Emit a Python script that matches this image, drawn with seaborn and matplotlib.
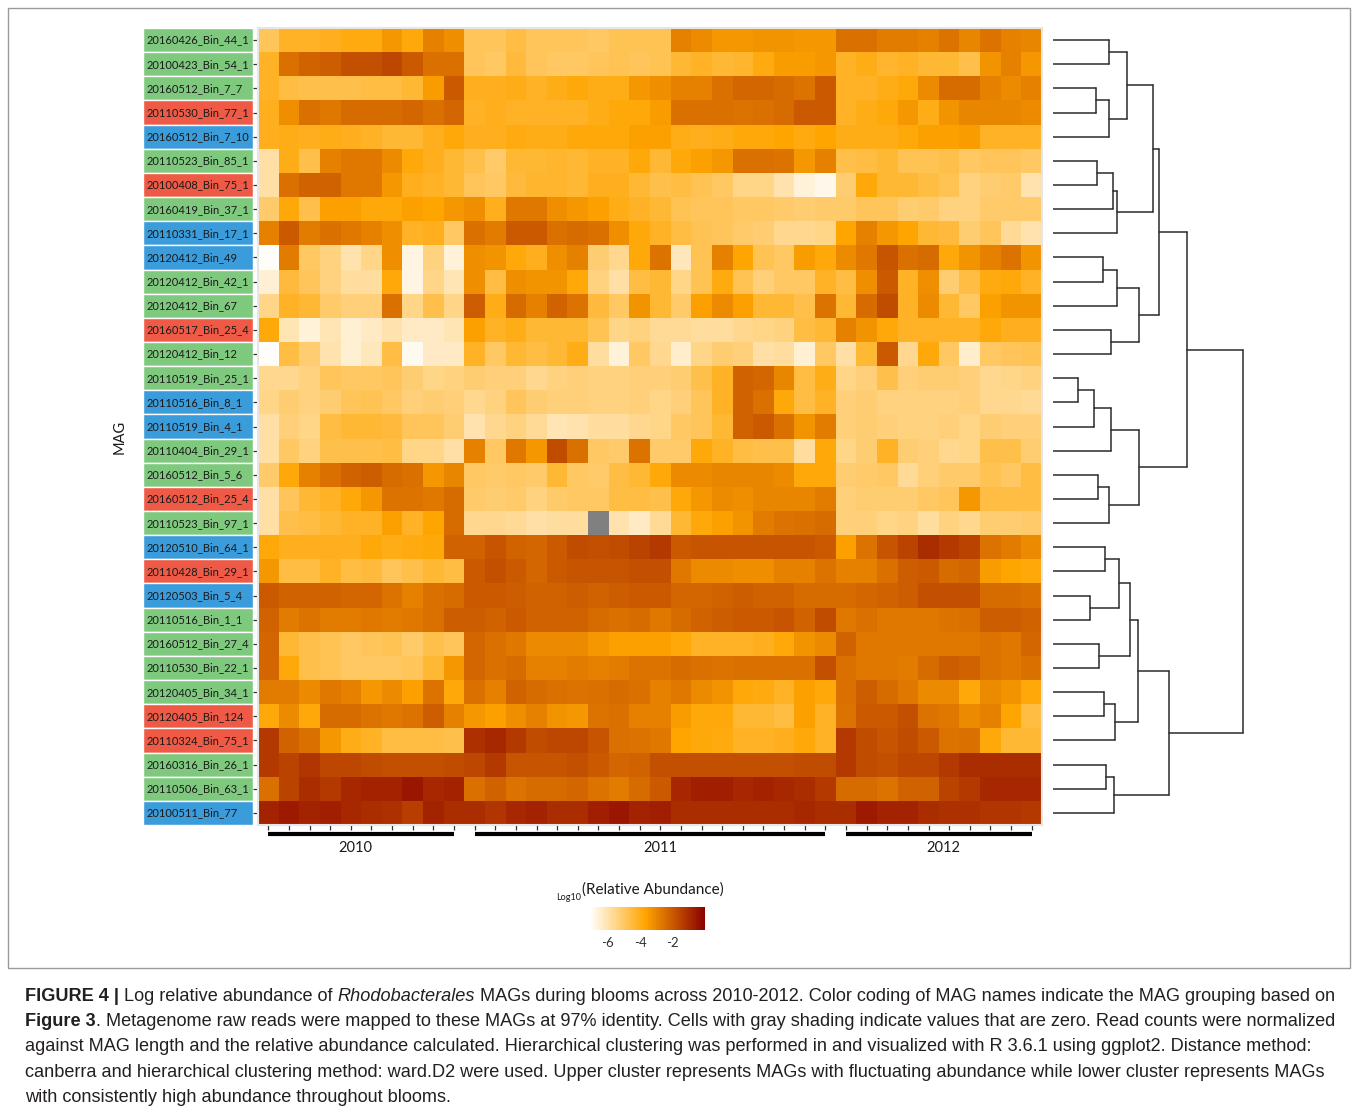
import numpy as np
import pandas as pd
import matplotlib
matplotlib.use("Agg")
import matplotlib.pyplot as plt
import seaborn as sns
from matplotlib.colors import LinearSegmentedColormap
from matplotlib.patches import Rectangle

# MAG rows (top to bottom) and their group colour
mag_names = [
    "20160426_Bin_44_1", "20100423_Bin_54_1", "20160512_Bin_7_7", "20110530_Bin_77_1",
    "20160512_Bin_7_10", "20110523_Bin_85_1", "20100408_Bin_75_1", "20160419_Bin_37_1",
    "20110331_Bin_17_1", "20120412_Bin_49", "20120412_Bin_42_1", "20120412_Bin_67",
    "20160517_Bin_25_4", "20120412_Bin_12", "20110519_Bin_25_1", "20110516_Bin_8_1",
    "20110519_Bin_4_1", "20110404_Bin_29_1", "20160512_Bin_5_6", "20160512_Bin_25_4",
    "20110523_Bin_97_1", "20120510_Bin_64_1", "20110428_Bin_29_1", "20120503_Bin_5_4",
    "20110516_Bin_1_1", "20160512_Bin_27_4", "20110530_Bin_22_1", "20120405_Bin_34_1",
    "20120405_Bin_124", "20110324_Bin_75_1", "20160316_Bin_26_1", "20110506_Bin_63_1",
    "20100511_Bin_77",
]
mag_groups = [
    "g", "g", "g", "r", "b", "g", "r", "g", "b", "b", "g", "g", "r", "g", "g", "b",
    "b", "g", "g", "r", "g", "b", "r", "b", "g", "g", "g", "g", "r", "r", "g", "g", "b",
]
group_colors = {"g": "#7fc97f", "r": "#ee5a45", "b": "#3b9cdb"}

# sampling years, number of samples (columns) per year, label position (column units)
years = ["2010", "2011", "2012"]
year_ncols = [10, 18, 10]
year_label_x = [4.7, 19.5, 33.2]

nan = np.nan
# log10 relative abundance, one list per MAG, 38 samples each
log_abund = [
    [-4.9,-4.2,-4.2,-4.1,-3.9,-3.9,-3.4,-3.8,-2.9,-3.2,-4.9,-4.9,-4.6, -4.9,-4.9,-4.9,-5.0,-4.8,-4.8,-4.8,-2.9,-3.1,-3.4,-3.4,-3.3,-3.3, -3.4,-3.4,-2.5,-2.5,-2.8,-2.8,-2.9,-2.6,-3.0,-2.6,-2.9,-3.0],
    [-4.2,-2.5,-2.2,-2.1,-1.8,-1.8,-1.6,-2.0,-2.5,-2.5,-4.9,-5.0,-4.5, -4.9,-5.0,-5.0,-4.9,-4.8,-4.9,-4.8,-4.4,-4.2,-4.4,-4.3,-3.9,-3.5, -3.5,-3.4,-4.2,-4.0,-4.3,-4.2,-4.4,-4.4,-4.7,-3.3,-2.9,-3.4],
    [-4.2,-4.6,-4.7,-4.7,-4.7,-4.6,-4.6,-4.4,-3.5,-2.0,-4.1,-4.1,-4.0, -4.2,-4.0,-3.8,-4.0,-4.0,-3.4,-3.2,-2.9,-2.9,-2.5,-2.3,-2.3,-2.4, -2.6,-2.0,-4.2,-4.2,-4.0,-3.8,-3.1,-2.4,-2.4,-2.9,-3.1,-2.9],
    [-4.1,-3.2,-2.5,-2.7,-2.4,-2.4,-2.4,-2.3,-2.5,-2.3,-4.2,-4.1,-4.2, -4.2,-4.2,-4.2,-4.0,-3.8,-3.8,-3.5,-2.5,-2.5,-2.5,-2.6,-2.5,-2.4, -2.0,-2.0,-4.2,-4.0,-3.8,-3.4,-4.0,-3.3,-3.0,-3.0,-3.0,-3.1],
    [-4.1,-4.0,-4.1,-4.0,-4.1,-4.2,-4.4,-4.4,-4.1,-3.8,-4.1,-4.1,-3.9, -4.0,-4.0,-3.8,-3.8,-3.8,-3.6,-3.6,-4.0,-4.1,-4.0,-3.8,-3.8,-3.7, -3.9,-3.7,-4.0,-4.0,-4.0,-3.8,-3.6,-3.6,-3.5,-4.2,-4.2,-4.2],
    [-5.9,-4.0,-4.7,-2.9,-2.7,-2.7,-3.1,-3.8,-4.1,-4.4,-4.7,-5.1,-4.4, -4.4,-4.3,-4.4,-4.2,-4.2,-3.8,-4.4,-3.8,-3.6,-3.4,-2.5,-2.5,-2.6, -3.4,-2.9,-4.7,-4.6,-4.4,-4.8,-4.8,-4.7,-5.0,-4.9,-4.9,-5.0],
    [-5.9,-2.5,-2.2,-2.2,-2.7,-2.7,-3.4,-4.1,-4.2,-4.4,-4.9,-5.0,-4.5, -4.3,-4.3,-4.4,-4.1,-4.1,-4.4,-4.7,-4.6,-4.8,-5.0,-5.5,-5.5,-6.0, -6.6,-6.8,-5.2,-3.8,-4.4,-4.4,-4.6,-4.8,-5.4,-5.2,-5.1,-6.0],
    [-5.1,-3.8,-4.7,-3.6,-3.6,-3.8,-3.8,-3.6,-3.7,-3.4,-3.2,-4.1,-2.7, -2.7,-3.2,-3.4,-3.6,-4.0,-4.2,-4.4,-4.8,-4.9,-4.9,-5.0,-5.0,-5.1, -5.2,-5.1,-5.1,-4.9,-4.9,-5.2,-5.1,-5.4,-5.4,-5.1,-5.1,-5.1],
    [-2.9,-2.0,-2.8,-2.5,-2.7,-2.9,-3.2,-4.2,-4.1,-5.0,-2.5,-2.8,-2.0, -2.0,-2.5,-2.4,-2.5,-3.2,-3.8,-4.2,-4.6,-4.8,-4.9,-5.1,-5.2,-5.6, -5.6,-5.5,-3.7,-2.9,-3.4,-3.7,-4.4,-4.5,-5.2,-4.9,-5.7,-6.0],
    [-7.0,-2.8,-5.0,-5.4,-6.0,-5.5,-3.2,-6.7,-5.4,-6.6,-3.2,-3.3,-3.8, -4.1,-3.2,-2.9,-5.2,-5.6,-3.8,-2.6,-6.2,-4.8,-2.9,-3.7,-4.8,-5.0, -3.5,-3.8,-3.1,-2.7,-1.9,-2.5,-2.4,-3.8,-3.3,-2.9,-2.6,-3.3],
    [-6.5,-4.5,-4.9,-5.4,-5.8,-5.8,-3.8,-6.7,-5.5,-6.1,-3.2,-4.6,-3.2, -3.3,-3.3,-3.8,-5.4,-5.9,-4.6,-4.4,-5.5,-4.8,-3.9,-4.8,-5.3,-5.0, -5.0,-4.2,-4.6,-3.2,-2.0,-4.2,-3.2,-5.2,-4.6,-3.9,-3.8,-4.2],
    [-5.5,-4.2,-4.4,-5.1,-5.3,-5.3,-2.5,-5.5,-4.7,-5.5,-2.1,-4.0,-2.4, -2.9,-2.2,-2.6,-4.5,-5.0,-3.3,-4.4,-5.1,-3.6,-3.1,-3.6,-4.4,-4.4, -4.7,-2.6,-4.4,-2.4,-1.7,-4.2,-3.1,-4.4,-5.0,-3.6,-3.3,-3.3],
    [-3.8,-6.1,-6.6,-6.1,-6.5,-6.3,-6.0,-6.3,-6.3,-6.1,-3.6,-4.2,-4.0, -4.4,-4.4,-4.4,-4.8,-5.5,-5.4,-5.7,-5.7,-5.8,-5.8,-5.6,-5.5,-5.4, -4.6,-4.4,-2.9,-3.3,-3.8,-4.2,-4.2,-4.2,-4.2,-3.8,-4.1,-4.1],
    [-7.0,-4.6,-5.2,-6.0,-6.5,-6.2,-4.6,-6.9,-6.3,-6.3,-4.2,-5.0,-4.4, -4.6,-4.4,-4.0,-5.8,-6.6,-5.0,-5.6,-6.4,-5.5,-5.2,-5.3,-5.9,-5.8, -6.5,-5.0,-5.9,-4.4,-2.0,-5.6,-3.8,-5.0,-6.4,-5.0,-4.9,-4.8],
    [-5.6,-5.6,-5.4,-4.9,-5.0,-5.0,-4.9,-5.2,-5.5,-5.4,-5.2,-5.3,-5.3, -5.6,-5.4,-5.3,-5.4,-5.4,-5.3,-5.3,-5.2,-4.7,-4.2,-2.2,-2.3,-3.0, -4.6,-4.0,-5.5,-5.3,-4.7,-5.3,-5.2,-5.2,-5.3,-5.6,-5.5,-5.4],
    [-5.5,-5.2,-5.4,-5.2,-4.9,-4.8,-5.0,-5.3,-5.2,-5.3,-5.6,-5.4,-4.9, -5.2,-5.3,-5.3,-5.4,-5.4,-5.3,-5.5,-5.3,-4.9,-4.2,-2.2,-2.5,-3.8, -4.6,-4.2,-5.3,-5.2,-5.4,-5.4,-5.4,-5.4,-5.3,-5.6,-5.6,-5.7],
    [-5.9,-5.3,-5.5,-4.6,-4.4,-4.4,-4.5,-4.9,-4.9,-5.2,-6.0,-5.6,-5.4, -5.7,-6.1,-6.0,-5.8,-5.8,-5.6,-5.5,-5.0,-4.9,-4.4,-2.2,-2.0,-2.5, -3.3,-2.8,-5.3,-5.2,-5.3,-5.4,-5.4,-5.3,-5.5,-5.2,-5.3,-5.3],
    [-5.9,-5.0,-5.4,-4.7,-4.7,-4.7,-4.6,-5.5,-5.5,-5.9,-2.9,-5.0,-2.7, -3.4,-1.7,-2.5,-5.0,-5.1,-2.6,-5.1,-5.1,-3.8,-4.2,-4.6,-4.7,-4.7, -5.8,-3.8,-5.5,-5.2,-4.2,-5.2,-5.3,-5.6,-5.5,-4.7,-4.7,-5.2],
    [-5.1,-3.8,-2.9,-2.5,-2.2,-2.1,-2.4,-2.5,-3.4,-3.0,-5.0,-5.1,-5.0, -5.1,-4.4,-5.0,-5.1,-4.6,-4.4,-3.8,-3.1,-3.1,-3.0,-3.0,-3.0,-3.1, -3.8,-3.8,-5.2,-5.1,-5.0,-5.7,-5.3,-5.1,-5.1,-4.8,-5.0,-4.6],
    [-5.9,-4.9,-4.4,-4.2,-3.8,-3.4,-2.6,-2.6,-2.7,-2.4,-5.1,-5.2,-5.1, -5.4,-5.1,-5.0,-5.0,-4.6,-4.6,-4.7,-3.8,-3.4,-3.1,-3.2,-3.0,-3.0, -3.0,-2.8,-5.3,-5.2,-5.2,-5.2,-5.0,-4.9,-3.4,-4.6,-4.6,-4.6],
    [-5.9,-4.7,-4.6,-4.4,-4.2,-4.2,-3.6,-4.2,-3.7,-2.4,-5.6,-5.6,-5.7, -5.9,-5.8,-5.8, nan,-6.0,-6.3,-5.7,-4.4,-3.8,-3.6,-3.3,-2.8,-2.6, -2.5,-2.4,-5.3,-5.3,-5.5,-5.4,-5.8,-5.4,-5.6,-5.2,-5.2,-5.1],
    [-3.8,-4.1,-4.1,-4.1,-4.1,-3.8,-4.0,-3.9,-3.8,-2.2,-2.2,-1.9,-2.2, -2.3,-2.0,-1.7,-1.8,-1.7,-1.5,-1.3,-2.0,-1.9,-1.9,-1.9,-1.9,-1.9, -1.9,-2.0,-3.6,-2.6,-1.9,-1.5,-1.0,-1.3,-1.5,-2.6,-2.8,-3.1],
    [-3.4,-4.6,-4.6,-4.2,-4.6,-4.5,-4.9,-4.7,-4.4,-4.6,-2.0,-1.8,-2.0, -2.3,-2.0,-1.9,-1.9,-1.9,-1.8,-1.8,-2.7,-3.1,-3.1,-3.2,-3.2,-2.9, -2.9,-2.6,-2.9,-2.9,-2.5,-2.1,-2.0,-2.4,-2.3,-3.5,-3.7,-3.8],
    [-2.0,-2.2,-2.2,-2.2,-2.3,-2.3,-2.6,-2.9,-2.5,-2.4,-2.0,-2.0,-2.1, -2.2,-2.2,-2.1,-2.2,-2.1,-2.0,-2.0,-2.3,-2.3,-2.2,-2.1,-2.2,-2.2, -2.4,-2.4,-2.4,-2.3,-2.2,-2.1,-1.8,-1.8,-1.8,-2.4,-2.4,-2.5],
    [-2.2,-2.8,-2.6,-2.8,-2.8,-2.7,-2.8,-2.7,-2.5,-2.1,-2.1,-2.2,-2.0, -2.2,-2.2,-2.2,-2.4,-2.5,-2.4,-2.7,-2.4,-2.2,-2.1,-2.0,-2.0,-1.9, -2.2,-1.7,-2.7,-2.5,-2.7,-2.7,-2.7,-2.6,-2.5,-2.1,-2.1,-2.2],
    [-2.3,-4.4,-4.7,-4.8,-5.0,-4.9,-4.8,-5.1,-4.7,-4.9,-2.3,-2.5,-2.7, -3.1,-3.1,-3.1,-3.4,-3.6,-3.6,-3.6,-3.8,-4.2,-4.2,-4.2,-4.1,-3.8, -3.3,-3.1,-2.2,-2.7,-2.7,-2.7,-2.7,-2.7,-2.7,-2.6,-2.7,-2.3],
    [-2.3,-3.8,-4.7,-4.8,-5.0,-5.0,-5.0,-4.9,-4.4,-3.4,-2.3,-2.5,-2.4, -2.9,-2.9,-2.8,-2.9,-2.8,-2.6,-2.6,-2.4,-2.5,-2.6,-2.5,-2.5,-2.5, -2.5,-1.8,-2.5,-2.7,-2.7,-2.8,-2.4,-2.1,-2.2,-2.6,-2.7,-2.5],
    [-2.8,-2.8,-3.1,-2.7,-2.9,-3.4,-3.1,-3.6,-2.6,-3.8,-2.5,-2.9,-2.2, -2.4,-2.5,-2.6,-2.5,-2.4,-2.5,-2.9,-2.7,-3.1,-3.3,-3.8,-3.9,-4.2, -3.6,-3.8,-2.5,-2.1,-2.4,-2.7,-3.1,-3.1,-3.8,-3.1,-3.3,-3.8],
    [-3.8,-3.1,-3.8,-2.4,-2.4,-2.6,-2.7,-2.6,-2.1,-2.9,-3.4,-3.6,-3.2, -2.9,-3.3,-3.4,-2.6,-2.5,-2.9,-2.9,-3.5,-3.8,-3.8,-4.4,-4.4,-4.6, -3.6,-4.2,-2.6,-2.0,-2.0,-1.8,-2.6,-2.7,-3.1,-2.9,-3.7,-4.6],
    [-1.3,-2.2,-2.5,-3.4,-4.0,-4.2,-4.6,-4.6,-4.6,-4.7,-1.1,-0.9,-1.3, -1.7,-1.6,-1.6,-1.9,-2.5,-2.6,-2.7,-3.7,-3.8,-3.9,-4.2,-4.2,-4.1, -3.8,-4.2,-1.3,-1.7,-1.9,-1.7,-2.0,-2.6,-2.5,-3.8,-4.4,-4.4],
    [-1.3,-1.5,-1.2,-1.6,-1.6,-1.7,-1.8,-1.8,-1.8,-1.7,-1.6,-1.3,-1.9, -1.9,-1.9,-1.8,-2.0,-2.3,-2.2,-1.8,-1.8,-1.8,-1.8,-1.8,-1.8,-1.8, -1.7,-1.7,-1.3,-1.7,-1.8,-1.6,-1.6,-1.3,-1.0,-1.0,-1.0,-1.0],
    [-2.5,-1.5,-1.0,-1.3,-0.9,-0.8,-0.8,-0.5,-0.9,-0.8,-2.5,-2.2,-2.6, -2.4,-2.4,-2.3,-2.6,-2.8,-2.4,-2.0,-0.9,-0.7,-0.7,-0.9,-0.8,-0.9, -1.0,-1.3,-2.4,-2.4,-2.6,-2.2,-2.2,-1.5,-1.3,-0.9,-0.9,-0.9],
    [-0.8,-0.6,-0.8,-0.7,-0.9,-1.0,-1.1,-1.4,-0.8,-1.0,-1.0,-1.2,-0.9, -0.8,-1.0,-1.0,-0.7,-0.5,-0.8,-0.7,-1.0,-1.0,-1.0,-1.0,-1.0,-1.0, -0.9,-1.0,-1.0,-0.6,-0.8,-0.8,-1.0,-1.1,-1.1,-1.2,-1.2,-1.3],
]

# dendrogram merges read off the tree: (child a, child b, height); leaves are 0..32,
# merge k creates node 33 + k
dendro_merges = [
    (0, 1, 29.3), (2, 3, 22.8), (34, 4, 29.3), (33, 35, 39.1),
    (5, 6, 23.2), (37, 7, 31.6), (38, 8, 33.9), (36, 39, 52.8),
    (9, 10, 26.5), (41, 11, 33.9), (12, 13, 30.7), (42, 43, 45.1),
    (40, 44, 55.6), (14, 15, 13.3), (46, 16, 21.4), (47, 17, 30.4),
    (18, 19, 23.7), (49, 20, 29.5), (48, 50, 45.4), (45, 51, 70.5),
    (21, 22, 27.2), (23, 24, 19.6), (53, 54, 34.6), (25, 26, 24.0),
    (55, 56, 40.5), (27, 28, 26.8), (58, 29, 32.5), (57, 59, 44.6),
    (30, 31, 27.9), (61, 32, 31.9), (60, 62, 61.2), (52, 63, 100.0),
]

cbar_ticks = [-6, -4, -2]
vmin, vmax = -7.1, 0.0

sns.set_theme(style="white")
plt.rcParams["font.family"] = ["Lato", "DejaVu Sans"]
plt.rcParams["axes.unicode_minus"] = False

W, H = 1358, 1111
fig = plt.figure(figsize=(W / 100, H / 100), dpi=100)


def px_axes(x0, y0, x1, y1):
    return fig.add_axes([x0 / W, 1 - y1 / H, (x1 - x0) / W, (y1 - y0) / H])


# thin frame round the figure panel
fig.add_artist(Rectangle((8 / W, 1 - 968 / H), (1350 - 8) / W, (968 - 8) / H,
                         transform=fig.transFigure, fill=False, ec="#9a9a9a", lw=1))

n_rows, n_cols = len(mag_names), len(log_abund[0])
df = pd.DataFrame(log_abund, index=mag_names)

cmap = LinearSegmentedColormap.from_list(
    "abund", [(0, "white"), ((-3.7 - vmin) / (vmax - vmin), "#ffa500"), (1, "#8b0000")])

# heatmap
ax = px_axes(258, 28, 1042, 825)
sns.heatmap(df, ax=ax, cmap=cmap, vmin=vmin, vmax=vmax, cbar=False,
            xticklabels=False, yticklabels=False)
ax.set_facecolor("#808080")
ax.set_xticks(np.arange(n_cols) + 0.5)
ax.set_yticks(np.arange(n_rows) + 0.5)
ax.set_xticklabels([])
ax.set_yticklabels([])
ax.tick_params(axis="both", length=3.5, width=0.9, color="#333333", bottom=True, left=True)
ax.set_xlabel("")
ax.set_ylabel("")
for sp in ax.spines.values():
    sp.set_visible(True)
    sp.set_color("#e6e6e6")
    sp.set_linewidth(1.5)

# coloured MAG name boxes
ax_lab = px_axes(143, 28, 253, 825)
ax_lab.barh(np.arange(n_rows) + 0.5, 1, height=1, left=0,
            color=[group_colors[g] for g in mag_groups])
for i, name in enumerate(mag_names):
    ax_lab.text(0.035, i + 0.5, name, va="center", ha="left", fontsize=8, color="#1a1a1a")
ax_lab.set_xlim(0, 1)
ax_lab.set_ylim(n_rows, 0)
ax_lab.axis("off")

fig.text(120 / W, 1 - 437 / H, "MAG", rotation=90, ha="center", va="center",
         fontsize=10.5, color="#1a1a1a")

# dendrogram
ax_d = px_axes(1053, 28, 1253, 825)
node_y = {i: i + 0.5 for i in range(n_rows)}
node_h = {i: 0.0 for i in range(n_rows)}
for k, (a, b, h) in enumerate(dendro_merges):
    for c in (a, b):
        ax_d.plot([node_h[c], h], [node_y[c], node_y[c]], color="#2b2b2b", lw=1.1)
    ax_d.plot([h, h], [node_y[a], node_y[b]], color="#2b2b2b", lw=1.1)
    node_y[n_rows + k] = (node_y[a] + node_y[b]) / 2
    node_h[n_rows + k] = h
ax_d.set_xlim(0, 100 * 200 / 190)
ax_d.set_ylim(n_rows, 0)
ax_d.axis("off")

# year bars under the columns
ax_y = px_axes(258, 826, 1042, 862)
start = 0
for yr, n, lx in zip(years, year_ncols, year_label_x):
    ax_y.plot([start + 0.5, start + n - 0.5], [0.22, 0.22], color="black", lw=3,
              solid_capstyle="butt")
    ax_y.text(lx, 0.62, yr, ha="center", va="center", fontsize=10.5, color="#1a1a1a")
    start += n
ax_y.set_xlim(0, n_cols)
ax_y.set_ylim(1, 0)
ax_y.axis("off")

# colour bar legend
cax = px_axes(590, 907, 705, 930)
cb = fig.colorbar(ax.collections[0], cax=cax, orientation="horizontal", ticks=cbar_ticks)
cb.outline.set_visible(False)
cax.tick_params(axis="x", direction="in", length=4, width=1, color="white",
                top=True, bottom=True, labelsize=9.5, labelcolor="#333333", pad=5)
fig.text(582 / W, 1 - 890 / H, "(Relative Abundance)", ha="left", va="center",
         fontsize=11, color="#1a1a1a")
fig.text(581 / W, 1 - 898 / H, "Log10", ha="right", va="center", fontsize=6.5,
         color="#1a1a1a")

# caption, assembled piece by piece for bold / italic runs
cap_font = ["Liberation Sans", "DejaVu Sans"]
cap_size = 13.1
renderer = fig.canvas.get_renderer()
caption = [
    [("FIGURE 4 |", "bold", True), ("Log relative abundance of", "normal", True),
     ("Rhodobacterales", "italic", True),
     ("MAGs during blooms across 2010-2012. Color coding of MAG names indicate the MAG grouping based on", "normal", False)],
    [("Figure 3", "bold", False),
     (". Metagenome raw reads were mapped to these MAGs at 97% identity. Cells with gray shading indicate values that are zero. Read counts were normalized", "normal", False)],
    [("against MAG length and the relative abundance calculated. Hierarchical clustering was performed in and visualized with R 3.6.1 using ggplot2. Distance method:", "normal", False)],
    [("canberra and hierarchical clustering method: ward.D2 were used. Upper cluster represents MAGs with fluctuating abundance while lower cluster represents MAGs", "normal", False)],
    [("with consistently high abundance throughout blooms.", "normal", False)],
]
probe_a = fig.text(0, 0, "x x", family=cap_font, fontsize=cap_size)
probe_b = fig.text(0, 0, "xx", family=cap_font, fontsize=cap_size)
space_w = probe_a.get_window_extent(renderer).width - probe_b.get_window_extent(renderer).width
probe_a.remove()
probe_b.remove()

for li, line in enumerate(caption):
    x = 25.0
    yb = 1001 + li * 25.2
    for s, style, gap in line:
        kw = dict(family=cap_font, fontsize=cap_size, color="#231f20")
        if style == "bold":
            kw["weight"] = "bold"
        if style == "italic":
            kw["style"] = "italic"
        t = fig.text(x / W, 1 - yb / H, s, ha="left", va="baseline", **kw)
        x = t.get_window_extent(renderer).x1 + (space_w if gap else 0)

fig.savefig("out.png", dpi=100)
